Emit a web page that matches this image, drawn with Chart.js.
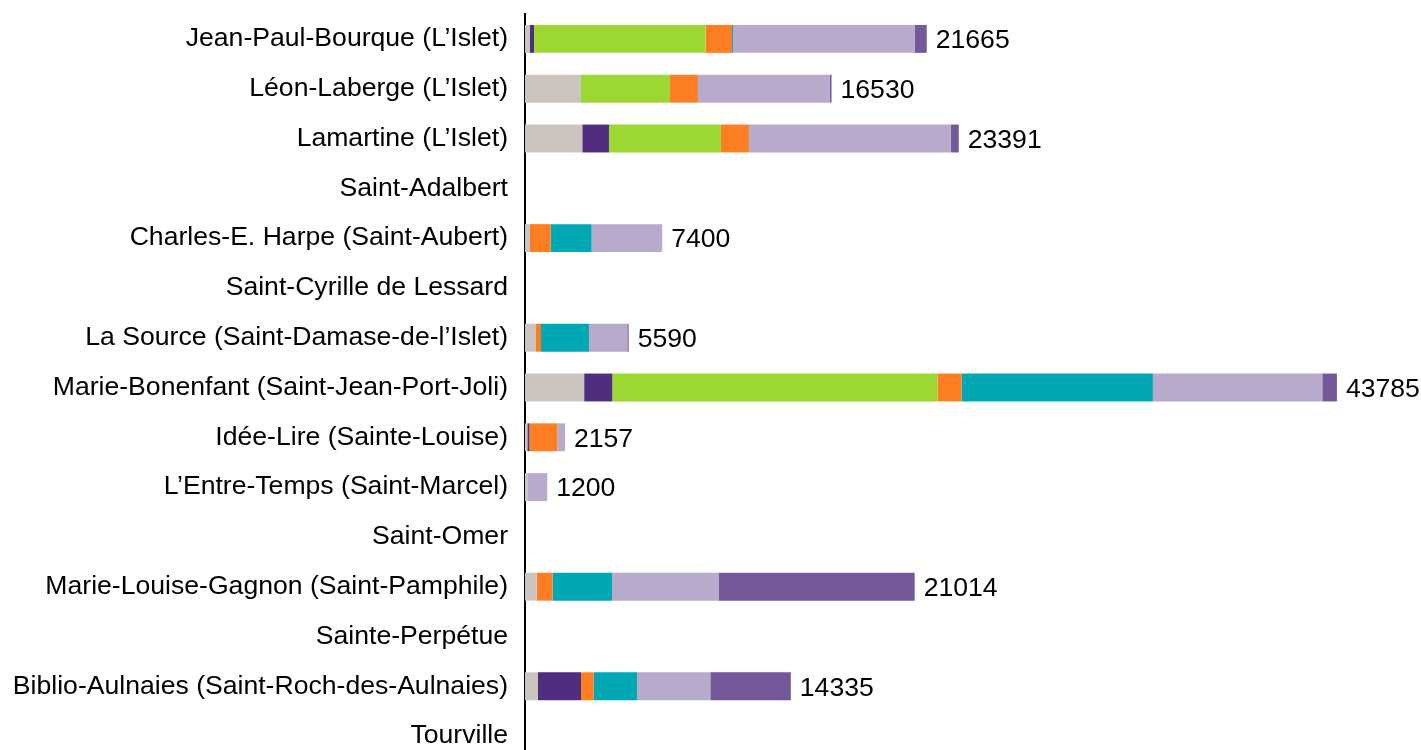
<!DOCTYPE html>
<html>
<head>
<meta charset="utf-8">
<script src="https://cdn.jsdelivr.net/npm/chart.js@4.4.1/dist/chart.umd.min.js"></script>
<style>
  html, body { margin: 0; padding: 0; background: #fff; overflow: hidden; }
  #wrap { position: relative; width: 1421px; height: 761px; }
</style>
</head>
<body>
<div id="wrap"><canvas id="c" width="1421" height="761"></canvas></div>
<script>
const categories = [
  "Jean-Paul-Bourque (L’Islet)",
  "Léon-Laberge (L’Islet)",
  "Lamartine (L’Islet)",
  "Saint-Adalbert",
  "Charles-E. Harpe (Saint-Aubert)",
  "Saint-Cyrille de Lessard",
  "La Source (Saint-Damase-de-l’Islet)",
  "Marie-Bonenfant (Saint-Jean-Port-Joli)",
  "Idée-Lire (Sainte-Louise)",
  "L’Entre-Temps (Saint-Marcel)",
  "Saint-Omer",
  "Marie-Louise-Gagnon (Saint-Pamphile)",
  "Sainte-Perpétue",
  "Biblio-Aulnaies (Saint-Roch-des-Aulnaies)",
  "Tourville"
];
const serieGris     = [270, 3019, 3090, 0, 270, 0, 593, 3190, 127, 158, 0, 629, 0, 683, 0];
const serieViolet   = [215, 0, 1438, 0, 0, 0, 0, 1518, 108, 0, 0, 0, 0, 2337, 0];
const serieVert     = [9256, 4797, 6037, 0, 0, 0, 0, 17535, 0, 0, 0, 0, 0, 0, 0];
const serieOrange   = [1420, 1509, 1509, 0, 1114, 0, 270, 1300, 1509, 0, 0, 863, 0, 683, 0];
const serieTurquoise= [54, 0, 0, 0, 2210, 0, 2587, 10317, 0, 0, 0, 3199, 0, 2337, 0];
const serieLavande  = [9795, 7115, 10888, 0, 3806, 0, 2066, 9138, 413, 1042, 0, 5768, 0, 3954, 0];
const serieMauve    = [655, 90, 429, 0, 0, 0, 74, 787, 0, 0, 0, 10555, 0, 4341, 0];
const totals        = [21665, 16530, 23391, null, 7400, null, 5590, 43785, 2157, 1200, null, 21014, null, 14335, null];

const FONT = "'Liberation Sans', Arial, sans-serif";
const FSIZE = 26.6;

const totalLabels = {
  id: 'totalLabels',
  afterDatasetsDraw(chart) {
    const ctx = chart.ctx;
    const xs = chart.scales.x, ys = chart.scales.y;
    ctx.save();
    ctx.font = FSIZE + "px " + FONT;
    ctx.fillStyle = "#000";
    ctx.textAlign = "left";
    ctx.textBaseline = "middle";
    totals.forEach((t, i) => {
      if (t == null) return;
      const x = xs.getPixelForValue(t) + 9;
      const y = ys.getPixelForValue(i) + 2;
      ctx.fillText(String(t), x, y);
    });
    ctx.restore();
  }
};

const mk = (label, data, color) => ({
  label, data, backgroundColor: color, borderWidth: 0,
  barPercentage: 0.56, categoryPercentage: 1.0
});

new Chart(document.getElementById('c'), {
  type: 'bar',
  data: {
    labels: categories,
    datasets: [
      mk("Série 1", serieGris, "#CCC5BF"),
      mk("Série 2", serieViolet, "#512D80"),
      mk("Série 3", serieVert, "#9CD831"),
      mk("Série 4", serieOrange, "#FD7E22"),
      mk("Série 5", serieTurquoise, "#00A8B4"),
      mk("Série 6", serieLavande, "#B8AACB"),
      mk("Série 7", serieMauve, "#735999")
    ]
  },
  options: {
    indexAxis: 'y',
    responsive: false,
    animation: false,
    layout: { padding: { top: 14, right: 43, left: 0, bottom: 0 } },
    plugins: { legend: { display: false }, tooltip: { enabled: false } },
    scales: {
      x: {
        stacked: true, min: 0, max: 46000, display: false
      },
      y: {
        stacked: true,
        grid: { display: false, drawTicks: false },
        border: { display: true, color: '#000', width: 2 },
        ticks: { color: '#000', font: { size: FSIZE, family: FONT }, padding: 17, autoSkip: false },
        afterFit(scale) { scale.width = 525; scale.paddingTop = 0; scale.paddingBottom = 0; }
      }
    }
  },
  plugins: [totalLabels]
});
</script>
</body>
</html>
